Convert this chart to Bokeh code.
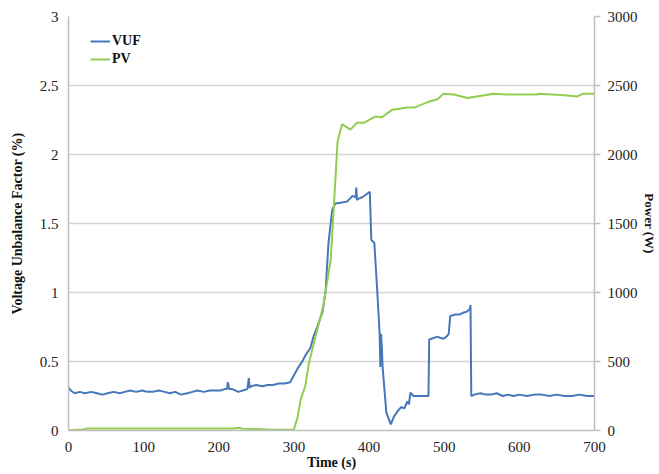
from bokeh.plotting import figure
from bokeh.models import Range1d, LinearAxis, FixedTicker, Legend, LegendItem
from bokeh.embed import file_html
from bokeh.resources import INLINE

# ---- data ----
vuf_time = [0, 3, 8, 15, 22, 30, 38, 45, 52, 60,
            68, 75, 82, 90, 98, 105, 112, 120, 128, 135,
            142, 150, 158, 165, 172, 180, 188, 195, 202, 208,
            211, 212, 214, 218, 226, 232, 238, 240, 241, 243,
            250, 258, 265, 272, 280, 288, 295, 300, 305, 311,
            316, 322, 326, 331, 338, 342, 346, 351, 355, 362,
            371, 378, 382, 383, 384, 386, 391, 396, 401, 403,
            407, 411, 414, 415, 416, 417, 418, 423, 429, 433,
            438, 443, 447, 451, 453, 455, 459, 465, 472, 479,
            480, 486, 491, 495, 499, 503, 506, 508, 515, 520,
            526, 530, 534, 535, 536, 540, 548, 555, 562, 570,
            578, 585, 592, 600, 610, 620, 630, 640, 650, 660, 670, 680, 690, 700]
vuf_value = [0.31, 0.29, 0.27, 0.28, 0.27, 0.28, 0.27, 0.26, 0.27, 0.28,
             0.27, 0.28, 0.29, 0.28, 0.29, 0.28, 0.28, 0.29, 0.28, 0.27,
             0.28, 0.26, 0.27, 0.28, 0.29, 0.28, 0.29, 0.29, 0.29, 0.30,
             0.30, 0.35, 0.30, 0.30, 0.28, 0.29, 0.30, 0.38, 0.31, 0.32,
             0.33, 0.32, 0.33, 0.33, 0.34, 0.34, 0.35, 0.40, 0.45, 0.50,
             0.55, 0.60, 0.68, 0.75, 0.86, 1.00, 1.36, 1.60, 1.645, 1.65,
             1.66, 1.70, 1.69, 1.76, 1.67, 1.68, 1.69, 1.71, 1.73, 1.38,
             1.36, 1.00, 0.71, 0.46, 0.70, 0.60, 0.46, 0.13, 0.045, 0.10,
             0.14, 0.17, 0.16, 0.21, 0.19, 0.275, 0.25, 0.25, 0.25, 0.25,
             0.66, 0.67, 0.68, 0.67, 0.665, 0.68, 0.70, 0.83, 0.84, 0.84,
             0.855, 0.86, 0.88, 0.91, 0.25, 0.26, 0.27, 0.26, 0.26, 0.27,
             0.25, 0.26, 0.25, 0.26, 0.25, 0.26, 0.26, 0.25, 0.26, 0.25, 0.25, 0.26, 0.25, 0.25]

pv_time = [0, 10, 20, 25, 60, 100, 150, 200, 220, 226,
           232, 250, 270, 290, 300, 305, 309, 315, 320, 331,
           339, 349, 355, 358, 364, 371, 375, 384, 393, 408,
           417, 431, 451, 460, 478, 491, 499, 513, 531, 566,
           584, 624, 626, 660, 677, 684, 700]
pv_power = [0, 5, 8, 15, 15, 15, 15, 14, 14, 20,
            12, 10, 6, 5, 5, 100, 225, 320, 490, 730,
            900, 1240, 1800, 2090, 2220, 2195, 2180, 2230, 2230, 2275,
            2270, 2325, 2340, 2340, 2380, 2400, 2440, 2435, 2410, 2440,
            2435, 2435, 2440, 2430, 2420, 2440, 2440]

x_ticks = [0, 100, 200, 300, 400, 500, 600, 700]
vuf_ticks = [0, 0.5, 1, 1.5, 2, 2.5, 3]
pv_ticks = [0, 500, 1000, 1500, 2000, 2500, 3000]

BLUE = "#4677BB"
GREEN = "#92CD50"
GRID = "#D4D4D4"
AXIS = "#BFBFBF"
FONT = "Times"

p = figure(frame_width=526, frame_height=414,
           x_range=Range1d(0, 700), y_range=Range1d(0, 3),
           output_backend="svg", toolbar_location=None,
           min_border_left=68, min_border_right=64,
           min_border_top=16, min_border_bottom=40)
p.outline_line_color = None
p.extra_y_ranges = {"pv": Range1d(0, 3000)}

p.xgrid.visible = False
p.ygrid.ticker = FixedTicker(ticks=[0.5, 1, 1.5, 2, 2.5])
p.ygrid.grid_line_color = GRID
p.ygrid.grid_line_width = 1.5

# x axis
xa = p.xaxis[0]
xa.ticker = FixedTicker(ticks=x_ticks)
xa.axis_label = "Time (s)"
xa.major_tick_out = 0
xa.major_tick_in = 0
xa.minor_tick_out = 0
xa.minor_tick_in = 0
xa.axis_line_color = AXIS
xa.axis_line_width = 1.5
xa.major_label_standoff = 11
xa.axis_label_standoff = 0

# left axis
ya = p.yaxis[0]
ya.ticker = FixedTicker(ticks=vuf_ticks)
ya.axis_label = "Voltage Unbalance Factor (%)"
ya.major_tick_out = 0
ya.major_tick_in = 0
ya.minor_tick_out = 0
ya.minor_tick_in = 0
ya.axis_line_color = AXIS
ya.axis_line_width = 1.5
ya.major_label_standoff = 10
ya.axis_label_standoff = 12

# right axis
ra = LinearAxis(y_range_name="pv", ticker=FixedTicker(ticks=pv_ticks),
                axis_label="Power (W)")
ra.major_tick_out = 6
ra.major_tick_in = 0
ra.minor_tick_out = 0
ra.minor_tick_in = 0
ra.major_tick_line_color = AXIS
ra.major_tick_line_width = 1.5
ra.axis_line_color = AXIS
ra.axis_line_width = 1.5
ra.major_label_standoff = 7
ra.axis_label_standoff = 1
p.add_layout(ra, "right")

for ax in [xa, ya, ra]:
    ax.major_label_text_font = FONT
    ax.major_label_text_font_size = "15px"
    ax.major_label_text_color = "#222222"
    ax.axis_label_text_font = FONT
    ax.axis_label_text_font_size = "14px"
    ax.axis_label_text_font_style = "bold"
    ax.axis_label_text_color = "#111111"
ra.axis_label_text_font_size = "13px"

r_vuf = p.line(vuf_time, vuf_value, line_color=BLUE, line_width=2)
r_pv = p.line(pv_time, pv_power, line_color=GREEN, line_width=2, y_range_name="pv")

legend = Legend(items=[LegendItem(label="VUF", renderers=[r_vuf]),
                       LegendItem(label="PV", renderers=[r_pv])],
                location=(22, 363))
legend.background_fill_alpha = 0
legend.border_line_alpha = 0
legend.padding = 0
legend.margin = 0
legend.spacing = 2
legend.glyph_width = 20
legend.glyph_height = 16
legend.label_height = 16
legend.label_standoff = 2
legend.label_text_font = FONT
legend.label_text_font_size = "14px"
legend.label_text_font_style = "bold"
legend.label_text_color = "#111111"
p.add_layout(legend, "center")

open("out.html", "w").write(file_html(p, INLINE))
